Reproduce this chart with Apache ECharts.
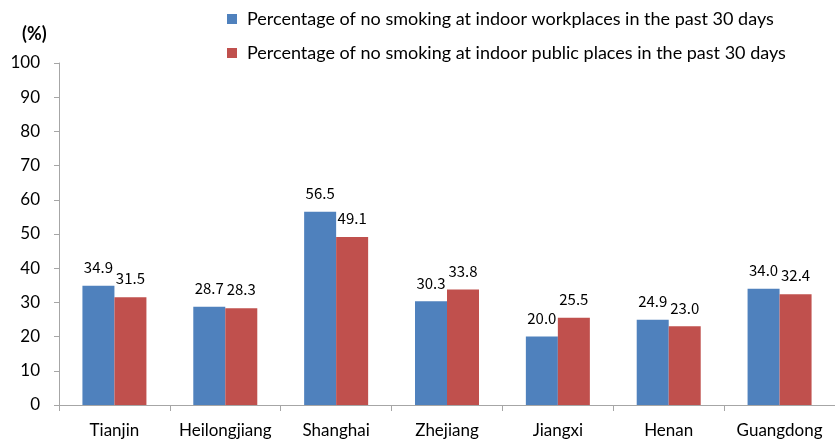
<!DOCTYPE html>
<html>
<head>
<meta charset="utf-8">
<script src="https://cdn.jsdelivr.net/npm/echarts@6/dist/echarts.min.js"></script>
<style>
  html, body { margin: 0; padding: 0; background: #fff; }
  #main { width: 835px; height: 439px; }
</style>
</head>
<body>
<div id="main"></div>
<script>
var provinces = ["Tianjin", "Heilongjiang", "Shanghai", "Zhejiang", "Jiangxi", "Henan", "Guangdong"];
var workplaces = [34.9, 28.7, 56.5, 30.3, 20.0, 24.9, 34.0];
var publicPlaces = [31.5, 28.3, 49.1, 33.8, 25.5, 23.0, 32.4];
var seriesNames = [
  "Percentage of no smoking at indoor workplaces in the past 30 days",
  "Percentage of no smoking at indoor public places in the past 30 days"
];

var chart = echarts.init(document.getElementById("main"));

// label style for bar values
var valueLabel = {
  show: true,
  position: "top",
  distance: 11,
  color: "#000",
  fontSize: 15,
  fontFamily: "Noto Sans CJK SC",
  formatter: function (p) { return p.value.toFixed(1); }
};

var option = {
  animation: false,
  textStyle: { fontFamily: "Lato" },
  title: {
    text: "(%)",
    left: 17,
    top: 20,
    textStyle: { fontSize: 18, fontWeight: "bold", color: "#000", fontFamily: "Lato" }
  },
  legend: {
    orient: "vertical",
    left: 222,
    top: 5,
    itemWidth: 10,
    itemHeight: 10,
    itemGap: 16,
    icon: "rect",
    textStyle: { fontSize: 18, color: "#000", padding: [0, 0, 0, 5] }
  },
  grid: {
    left: 59,
    right: -12,
    top: 63,
    bottom: 32,
    containLabel: false
  },
  xAxis: {
    type: "category",
    data: provinces,
    axisLine: { lineStyle: { color: "#a6a6a6", width: 1 } },
    axisTick: { show: true, length: 6, lineStyle: { color: "#a6a6a6" } },
    axisLabel: { color: "#000", fontSize: 17, margin: 17, interval: 0 }
  },
  yAxis: {
    type: "value",
    min: 0,
    max: 100,
    interval: 10,
    splitLine: { show: false },
    axisLine: { show: true, lineStyle: { color: "#a6a6a6", width: 1 } },
    axisTick: { show: true, length: 5, lineStyle: { color: "#a6a6a6" } },
    axisLabel: { color: "#000", fontSize: 17, margin: 19 }
  },
  series: [
    {
      name: seriesNames[0],
      type: "bar",
      data: workplaces,
      barWidth: 32,
      barGap: "0%",
      itemStyle: { color: "#4f81bd" },
      label: valueLabel
    },
    {
      name: seriesNames[1],
      type: "bar",
      data: publicPlaces,
      barWidth: 32,
      barGap: "0%",
      itemStyle: { color: "#c0504d" },
      label: valueLabel
    }
  ]
};

chart.setOption(option);
</script>
</body>
</html>
